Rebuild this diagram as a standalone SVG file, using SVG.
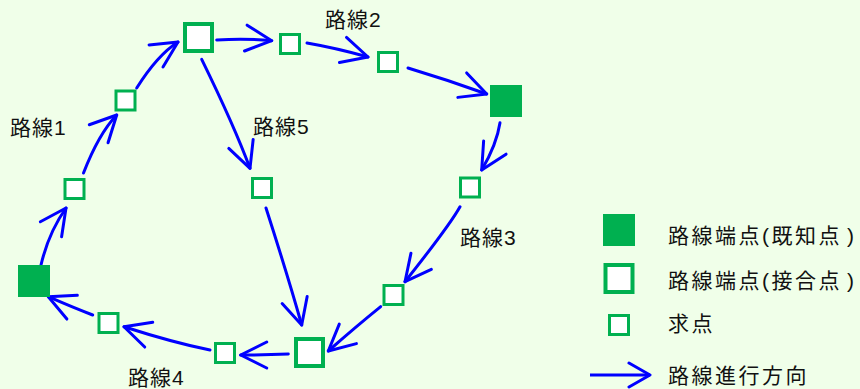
<svg xmlns="http://www.w3.org/2000/svg" width="860" height="389" viewBox="0 0 860 389">
<style>
.bg{fill:#F0FFE9}
.s{fill:#fff;stroke:#00B050;stroke-width:3}
.b{fill:#fff;stroke:#00B050;stroke-width:4}
.f{fill:#00B050}
.c{fill:none;stroke:#0000FF;stroke-width:3;stroke-linecap:round;marker-end:url(#head)}
.lbl{font-family:"Liberation Sans","Noto Sans CJK JP",sans-serif;font-size:21px;fill:#111;letter-spacing:1px}
.leg{font-family:"Liberation Sans","Noto Sans CJK JP",sans-serif;font-size:21px;fill:#111;letter-spacing:2.5px}
</style>
<defs>
<marker id="head" markerUnits="userSpaceOnUse" markerWidth="40" markerHeight="40" viewBox="-30 -20 40 40" refX="0" refY="0" orient="auto" overflow="visible">
<path d="M-26,-13 L0,0 L-26,13" fill="none" stroke="#0000FF" stroke-width="3" stroke-linecap="round" stroke-linejoin="round"/>
</marker>
<marker id="headS" markerUnits="userSpaceOnUse" markerWidth="40" markerHeight="40" viewBox="-30 -20 40 40" refX="0" refY="0" orient="auto" overflow="visible">
<path d="M-21,-12 L0,0 L-21,12" fill="none" stroke="#0000FF" stroke-width="3" stroke-linecap="round" stroke-linejoin="round"/>
</marker>
</defs>
<rect class="bg" x="0" y="0" width="860" height="389"/>
<g id="connectors">
<path class="c" d="M41,265 Q48.6,232.6 66,208"/>
<path class="c" d="M83.5,173 Q98.9,133.5 116.7,115"/>
<path class="c" d="M136.7,88 Q157.5,55 178,42"/>
<path class="c" d="M216.7,40 Q245,38 271.7,40.7"/>
<path class="c" d="M307,43 Q336,48 368,57"/>
<path class="c" d="M408,68 Q448,80 486.7,94"/>
<path class="c" d="M500,122.7 Q496.7,144.4 481.7,170"/>
<path class="c" d="M460,206.7 Q449.8,225.1 405,281.7"/>
<path class="c" d="M380.7,306.7 Q357.4,325.5 328.3,351"/>
<path class="c" d="M266,208 Q288.3,277.4 301.7,325"/>
<path class="c" d="M201.7,59.3 Q234.4,126.1 250,168.3"/>
<path class="c" d="M288.3,354 Q265,355 240.7,355"/>
<path class="c" d="M210,350 Q172.4,342.3 124,326.7"/>
<path class="c" d="M92.7,315 Q74.3,308.1 48.3,296.7"/>
</g>
<g id="node-F2"><rect class="f" x="18" y="265" width="32" height="32"/></g>
<g id="node-S1"><rect class="s" x="65" y="179.5" width="19" height="19"/></g>
<g id="node-S2"><rect class="s" x="116" y="91" width="19" height="19"/></g>
<g id="node-B1"><rect class="b" x="185" y="24" width="27" height="27"/></g>
<g id="node-S3"><rect class="s" x="280.5" y="34.5" width="19" height="19"/></g>
<g id="node-S4"><rect class="s" x="378.5" y="52.5" width="19" height="19"/></g>
<g id="node-F1"><rect class="f" x="490" y="85" width="32" height="32"/></g>
<g id="node-S5"><rect class="s" x="460.5" y="178" width="19" height="19"/></g>
<g id="node-S6"><rect class="s" x="384" y="285.5" width="19" height="19"/></g>
<g id="node-B2"><rect class="b" x="296" y="339" width="27" height="27"/></g>
<g id="node-S7"><rect class="s" x="215.5" y="343.5" width="19" height="19"/></g>
<g id="node-S8"><rect class="s" x="99" y="313.5" width="19" height="19"/></g>
<g id="node-S9"><rect class="s" x="252.5" y="178.5" width="19" height="19"/></g>
<g id="labels">
<text class="lbl" x="10" y="135">路線1</text>
<text class="lbl" x="325" y="27">路線2</text>
<text class="lbl" x="460" y="245">路線3</text>
<text class="lbl" x="128" y="385">路線4</text>
<text class="lbl" x="253" y="134">路線5</text>
</g>
<g id="legend">
<rect class="f" x="603" y="214" width="32" height="32"/>
<rect class="b" x="605.5" y="265" width="27" height="27"/>
<rect class="s" x="609.5" y="315.5" width="19" height="19"/>
<path d="M590,375 L650,375" fill="none" stroke="#0000FF" stroke-width="3" marker-end="url(#headS)"/>
<text class="leg" x="668" y="243">路線端点(既知点<tspan dx="5">)</tspan></text>
<text class="leg" x="668" y="288">路線端点(接合点<tspan dx="5">)</tspan></text>
<text class="leg" x="668" y="331">求点</text>
<text class="leg" x="668" y="383">路線進行方向</text>
</g>
</svg>
